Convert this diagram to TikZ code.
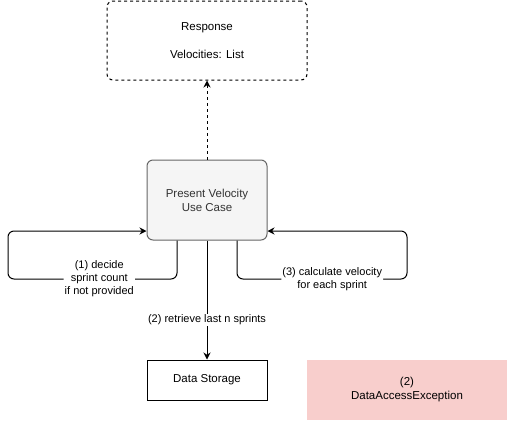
\documentclass[tikz,border=0pt]{standalone}
\usepackage{fontspec}
\setmainfont{Liberation Sans}
\usetikzlibrary{arrows.meta}
\definecolor{ucfill}{HTML}{F5F5F5}
\definecolor{ucline}{HTML}{666666}
\definecolor{uctext}{HTML}{333333}
\definecolor{errfill}{HTML}{F8CECC}

\tikzset{
	box/.style={draw, line width=1pt, minimum width=120pt, minimum height=40pt,
		align=center, font=\fontsize{11.5}{14}\selectfont},
	respbox/.style={box, dash pattern=on 3pt off 3pt, rounded corners=6pt,
		minimum width=200pt, minimum height=79pt},
	casebox/.style={box, rounded corners=6pt, fill=ucfill, draw=ucline,
		text=uctext, minimum height=80pt},
	errbox/.style={box, draw=none, fill=errfill, minimum width=200pt,
		minimum height=60pt},
	edgelabel/.style={fill=white, inner sep=1pt, align=center,
		font=\fontsize{11}{13}\selectfont}
}

\begin{document}
\begin{tikzpicture}[x=1pt, y=-1pt, line width=1pt,
	>={Stealth[length=7pt, width=7pt]}]
	\useasboundingbox (0,0) rectangle (508,421);
	% boxes
	\node[respbox] (resp) at (207,40.5) {Response\\[14pt]Velocities: List};
	\node[casebox] (usecase) at (207,200) {Present Velocity\\Use Case};
	\node[box] (storage) at (207,380) {Data Storage};
	\node[errbox] (error) at (407,390) {(2)\\DataAccessException};
	% result
	\draw[->, dash pattern=on 3pt off 3pt] (usecase.north) -- (resp.south);
	% retrieve sprints
	\draw[->] (usecase.south) -- node[edgelabel, pos=0.667] {(2) retrieve last n sprints} (storage.north);
	% self loops
	\draw[->, rounded corners=6pt] ([xshift=-30pt]usecase.south) |- (8,279)
		node[edgelabel, pos=0.73] {(1) decide\\sprint count\\if not provided}
		|- ([yshift=-31pt]usecase.west);
	\draw[->, rounded corners=6pt] ([xshift=30pt]usecase.south) |- (407,279)
		node[edgelabel, pos=0.78] {(3) calculate velocity\\for each sprint}
		|- ([yshift=-31pt]usecase.east);
\end{tikzpicture}
\end{document}
